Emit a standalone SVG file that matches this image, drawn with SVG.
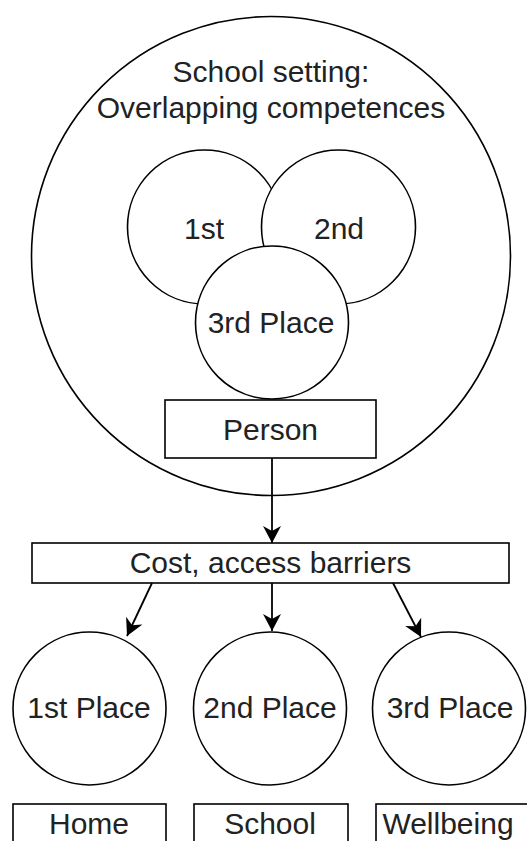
<svg xmlns="http://www.w3.org/2000/svg" width="527" height="841" viewBox="0 0 527 841">
<style>
.s{fill:#fff;stroke:#000;stroke-width:1.6}
.t{font-family:"Liberation Sans",Arial,sans-serif;font-size:30px;fill:#222;text-anchor:middle}
.c{stroke:#000;stroke-width:1.8;fill:none}
</style>
<defs>
<marker id="ah" markerUnits="userSpaceOnUse" viewBox="0 0 20 20" refX="18" refY="10" markerWidth="20" markerHeight="20" orient="auto">
<path d="M1,1 L18,10 L1,19 L6,10 Z" fill="#000"/>
</marker>
</defs>
<rect width="527" height="841" fill="#fff"/>
<g id="school-setting">
<circle class="s" cx="271" cy="256" r="239.5"/>
<text class="t" x="271" y="82">School setting:</text>
<text class="t" x="271" y="118">Overlapping competences</text>
</g>
<g id="inner-1st">
<circle class="s" cx="204.5" cy="227" r="77"/>
<text class="t" x="204" y="239">1st</text>
</g>
<g id="inner-2nd">
<circle class="s" cx="338.5" cy="227" r="77"/>
<text class="t" x="339" y="239">2nd</text>
</g>
<g id="inner-3rd">
<circle class="s" cx="272" cy="322.5" r="76.5"/>
<text class="t" x="271" y="333">3rd Place</text>
</g>
<g id="person">
<rect class="s" x="165" y="400" width="211" height="58"/>
<text class="t" x="270.5" y="440">Person</text>
</g>
<g id="cost">
<rect class="s" x="32" y="543" width="477" height="40"/>
<text class="t" x="270.5" y="573">Cost, access barriers</text>
</g>
<g id="place-1">
<circle class="s" cx="89.5" cy="708.5" r="76.5"/>
<text class="t" x="89" y="718">1st Place</text>
</g>
<g id="place-2">
<circle class="s" cx="270" cy="708.5" r="76.5"/>
<text class="t" x="270" y="718">2nd Place</text>
</g>
<g id="place-3">
<circle class="s" cx="449" cy="708.5" r="76.5"/>
<text class="t" x="450" y="718">3rd Place</text>
</g>
<g id="home">
<rect class="s" x="13" y="804" width="153" height="50"/>
<text class="t" x="89" y="834">Home</text>
</g>
<g id="school">
<rect class="s" x="194" y="804" width="154" height="50"/>
<text class="t" x="270" y="834">School</text>
</g>
<g id="wellbeing">
<rect class="s" x="376" y="804" width="160" height="50"/>
<text class="t" x="448" y="834">Wellbeing</text>
</g>
<g id="connectors">
<line class="c" x1="272" y1="458" x2="272" y2="543" marker-end="url(#ah)"/>
<line class="c" x1="152" y1="583" x2="127" y2="636" marker-end="url(#ah)"/>
<line class="c" x1="272" y1="583" x2="272" y2="631" marker-end="url(#ah)"/>
<line class="c" x1="393" y1="583" x2="421" y2="637" marker-end="url(#ah)"/>
</g>
</svg>
